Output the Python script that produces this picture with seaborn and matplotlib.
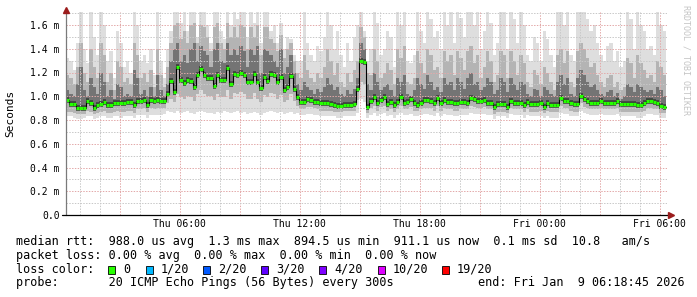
import numpy as np
import pandas as pd
import matplotlib
matplotlib.use("Agg")
import matplotlib.pyplot as plt
from matplotlib.patches import Rectangle
import seaborn as sns

# ---------------- data (milliseconds, one value per 10-minute step) ----------------
median_ms = [
    0.97, 0.935, 0.935, 0.905, 0.905, 0.905, 0.96, 0.945, 0.905, 0.93,
    0.935, 0.95, 0.93, 0.93, 0.94, 0.945, 0.945, 0.945, 0.95, 0.95,
    0.93, 0.96, 0.96, 0.97, 0.93, 0.97, 0.96, 0.965, 0.96, 0.96,
    1.02, 1.13, 1.04, 1.25, 1.14, 1.11, 1.14, 1.13, 1.075, 1.18,
    1.23, 1.18, 1.15, 1.15, 1.09, 1.18, 1.14, 1.14, 1.24, 1.10,
    1.19, 1.175, 1.20, 1.18, 1.12, 1.12, 1.19, 1.12, 1.07, 1.16,
    1.13, 1.19, 1.18, 1.12, 1.16, 1.05, 1.08, 1.17, 1.06, 0.99,
    0.95, 0.95, 0.975, 0.97, 0.955, 0.95, 0.94, 0.94, 0.94, 0.935,
    0.93, 0.92, 0.92, 0.93, 0.93, 0.93, 0.935, 1.06, 1.30, 1.29,
    0.91, 0.96, 0.99, 0.94, 0.97, 0.99, 0.935, 0.955, 0.925, 0.95,
    0.99, 0.945, 0.955, 0.975, 0.94, 0.93, 0.945, 0.965, 0.965, 0.96,
    0.94, 0.985, 0.94, 0.965, 0.955, 0.955, 0.94, 0.94, 0.955, 0.955,
    0.946, 0.983, 0.975, 0.963, 0.963, 0.969, 0.946, 0.946, 0.907, 0.932,
    0.932, 0.932, 0.912, 0.963, 0.946, 0.946, 0.946, 0.926, 0.948, 0.932,
    0.932, 0.932, 0.94, 0.912, 0.94, 0.926, 0.926, 0.926, 0.983, 0.96,
    0.96, 0.94, 0.932, 0.932, 1.002, 0.975, 0.963, 0.946, 0.946, 0.946,
    0.963, 0.946, 0.946, 0.946, 0.946, 0.963, 0.932, 0.932, 0.932, 0.932,
    0.932, 0.926, 0.926, 0.94, 0.963, 0.963, 0.954, 0.946, 0.918, 0.911,
]
smoke_max_ms = [
    1.32, 1.30, 1.22, 1.45, 1.75, 1.40, 1.28, 1.75, 1.50, 1.35,
    1.75, 1.60, 1.30, 1.38, 1.15, 1.55, 1.45, 1.25, 1.30, 1.20,
    1.75, 1.60, 1.30, 1.35, 1.28, 1.40, 1.18, 1.75, 1.30, 1.15,
    1.40, 1.55, 1.75, 1.75, 1.62, 1.75, 1.55, 1.75, 1.75, 1.50,
    1.75, 1.75, 1.60, 1.45, 1.75, 1.75, 1.55, 1.48, 1.75, 1.60,
    1.75, 1.65, 1.75, 1.75, 1.50, 1.75, 1.62, 1.75, 1.45, 1.75,
    1.75, 1.55, 1.60, 1.45, 1.62, 1.40, 1.50, 1.48, 1.35, 1.30,
    1.30, 1.75, 1.45, 1.35, 1.30, 1.42, 1.38, 1.50, 1.75, 1.60,
    1.40, 1.55, 1.35, 1.25, 1.45, 1.30, 1.50, 1.60, 1.75, 1.55,
    1.30, 1.40, 1.75, 1.62, 1.35, 1.40, 1.55, 1.50, 1.25, 1.75,
    1.60, 1.75, 1.30, 1.28, 1.35, 1.75, 1.55, 1.45, 1.75, 1.65,
    1.50, 1.55, 1.40, 1.75, 1.60, 1.75, 1.45, 1.75, 1.66, 1.50,
    1.75, 1.75, 1.60, 1.75, 1.40, 1.55, 1.75, 1.62, 1.35, 1.45,
    1.75, 1.75, 1.40, 1.75, 1.65, 1.45, 1.75, 1.60, 1.35, 1.30,
    1.50, 1.45, 1.30, 1.55, 1.48, 1.35, 1.25, 1.75, 1.75, 1.60,
    1.75, 1.35, 1.30, 1.75, 1.75, 1.75, 1.65, 1.55, 1.60, 1.45,
    1.35, 1.30, 1.42, 1.45, 1.30, 1.38, 1.25, 1.30, 1.75, 1.65,
    1.40, 1.75, 1.60, 1.55, 1.40, 1.42, 1.35, 1.75, 1.60, 1.55,
]
smoke_p90_ms = [
    1.18, 1.15, 1.10, 1.25, 1.45, 1.20, 1.12, 1.40, 1.25, 1.15,
    1.45, 1.35, 1.12, 1.20, 1.05, 1.30, 1.25, 1.12, 1.15, 1.10,
    1.45, 1.35, 1.15, 1.20, 1.12, 1.22, 1.08, 1.40, 1.18, 1.08,
    1.25, 1.45, 1.60, 1.62, 1.48, 1.55, 1.45, 1.60, 1.62, 1.45,
    1.60, 1.58, 1.50, 1.38, 1.58, 1.62, 1.45, 1.40, 1.62, 1.50,
    1.58, 1.50, 1.60, 1.58, 1.40, 1.58, 1.50, 1.60, 1.35, 1.58,
    1.58, 1.48, 1.45, 1.38, 1.52, 1.32, 1.40, 1.45, 1.30, 1.20,
    1.15, 1.35, 1.22, 1.15, 1.12, 1.20, 1.15, 1.25, 1.40, 1.30,
    1.18, 1.28, 1.12, 1.08, 1.20, 1.12, 1.22, 1.30, 1.58, 1.50,
    1.20, 1.18, 1.40, 1.30, 1.15, 1.20, 1.28, 1.22, 1.10, 1.40,
    1.32, 1.42, 1.12, 1.10, 1.15, 1.38, 1.28, 1.20, 1.40, 1.35,
    1.22, 1.25, 1.15, 1.38, 1.30, 1.35, 1.18, 1.38, 1.32, 1.22,
    1.38, 1.42, 1.28, 1.35, 1.15, 1.25, 1.38, 1.30, 1.12, 1.18,
    1.38, 1.35, 1.15, 1.38, 1.30, 1.18, 1.35, 1.28, 1.12, 1.08,
    1.22, 1.18, 1.10, 1.25, 1.20, 1.12, 1.05, 1.35, 1.40, 1.28,
    1.38, 1.12, 1.08, 1.38, 1.45, 1.40, 1.32, 1.25, 1.28, 1.18,
    1.12, 1.08, 1.15, 1.18, 1.08, 1.12, 1.05, 1.08, 1.32, 1.28,
    1.15, 1.35, 1.28, 1.22, 1.15, 1.18, 1.12, 1.30, 1.25, 1.18,
]
smoke_upper_ms = [
    1.05, 1.02, 1.00, 1.10, 1.25, 1.05, 1.00, 1.15, 1.08, 1.02,
    1.20, 1.12, 1.00, 1.05, 0.98, 1.10, 1.08, 1.00, 1.02, 1.00,
    1.22, 1.15, 1.02, 1.05, 1.00, 1.08, 1.00, 1.18, 1.05, 1.00,
    1.10, 1.30, 1.40, 1.45, 1.30, 1.35, 1.28, 1.40, 1.45, 1.30,
    1.42, 1.38, 1.35, 1.25, 1.40, 1.45, 1.30, 1.28, 1.45, 1.35,
    1.40, 1.35, 1.42, 1.38, 1.25, 1.40, 1.35, 1.42, 1.20, 1.40,
    1.38, 1.35, 1.30, 1.25, 1.40, 1.20, 1.25, 1.35, 1.20, 1.10,
    1.05, 1.12, 1.08, 1.05, 1.02, 1.06, 1.04, 1.08, 1.15, 1.10,
    1.05, 1.08, 1.02, 1.00, 1.05, 1.02, 1.06, 1.15, 1.45, 1.40,
    1.10, 1.05, 1.20, 1.12, 1.05, 1.08, 1.10, 1.05, 1.00, 1.15,
    1.12, 1.18, 1.02, 1.00, 1.05, 1.15, 1.10, 1.06, 1.18, 1.12,
    1.05, 1.08, 1.04, 1.15, 1.10, 1.12, 1.05, 1.15, 1.12, 1.06,
    1.15, 1.20, 1.10, 1.12, 1.05, 1.08, 1.15, 1.12, 1.02, 1.05,
    1.15, 1.12, 1.04, 1.15, 1.10, 1.05, 1.12, 1.10, 1.02, 1.00,
    1.06, 1.05, 1.00, 1.08, 1.05, 1.02, 1.00, 1.12, 1.18, 1.10,
    1.15, 1.02, 1.00, 1.15, 1.22, 1.18, 1.12, 1.08, 1.10, 1.05,
    1.02, 1.00, 1.04, 1.05, 1.00, 1.03, 0.98, 1.00, 1.10, 1.08,
    1.04, 1.10, 1.08, 1.05, 1.04, 1.05, 1.02, 1.08, 1.05, 1.00,
]
smoke_lower_ms = [
    0.87, 0.87, 0.86, 0.85, 0.85, 0.85, 0.88, 0.87, 0.85, 0.86,
    0.87, 0.88, 0.86, 0.86, 0.87, 0.88, 0.87, 0.87, 0.88, 0.88,
    0.86, 0.89, 0.89, 0.90, 0.87, 0.90, 0.89, 0.90, 0.90, 0.90,
    0.94, 0.98, 0.95, 1.02, 0.99, 0.98, 1.00, 0.99, 0.96, 1.02,
    1.05, 1.02, 1.00, 1.00, 0.97, 1.02, 0.99, 0.99, 1.05, 0.98,
    1.03, 1.02, 1.04, 1.02, 0.98, 0.98, 1.03, 0.98, 0.95, 1.01,
    0.99, 1.03, 1.02, 0.98, 1.01, 0.95, 0.97, 1.02, 0.96, 0.92,
    0.89, 0.89, 0.91, 0.91, 0.90, 0.89, 0.88, 0.88, 0.88, 0.88,
    0.87, 0.87, 0.87, 0.88, 0.88, 0.88, 0.88, 0.97, 1.12, 1.10,
    0.86, 0.90, 0.92, 0.88, 0.91, 0.92, 0.88, 0.89, 0.87, 0.89,
    0.92, 0.89, 0.89, 0.91, 0.88, 0.88, 0.89, 0.90, 0.90, 0.90,
    0.88, 0.92, 0.88, 0.90, 0.89, 0.89, 0.88, 0.88, 0.89, 0.89,
    0.89, 0.92, 0.91, 0.90, 0.90, 0.91, 0.89, 0.89, 0.85, 0.87,
    0.87, 0.87, 0.86, 0.90, 0.89, 0.89, 0.89, 0.87, 0.89, 0.87,
    0.87, 0.87, 0.88, 0.86, 0.88, 0.87, 0.87, 0.87, 0.92, 0.90,
    0.90, 0.88, 0.87, 0.87, 0.94, 0.91, 0.90, 0.89, 0.89, 0.89,
    0.90, 0.89, 0.89, 0.89, 0.89, 0.90, 0.87, 0.87, 0.87, 0.87,
    0.87, 0.87, 0.87, 0.88, 0.90, 0.90, 0.89, 0.89, 0.86, 0.86,
]
smoke_min_ms = [
    0.83, 0.83, 0.82, 0.81, 0.81, 0.82, 0.83, 0.83, 0.81, 0.82,
    0.83, 0.83, 0.82, 0.82, 0.83, 0.83, 0.82, 0.83, 0.83, 0.83,
    0.82, 0.84, 0.84, 0.84, 0.82, 0.84, 0.84, 0.84, 0.84, 0.85,
    0.88, 0.87, 0.86, 0.88, 0.86, 0.87, 0.88, 0.86, 0.85, 0.87,
    0.88, 0.87, 0.86, 0.86, 0.85, 0.87, 0.86, 0.88, 0.87, 0.86,
    0.87, 0.88, 0.86, 0.87, 0.85, 0.86, 0.87, 0.86, 0.84, 0.86,
    0.87, 0.88, 0.87, 0.86, 0.87, 0.85, 0.86, 0.87, 0.85, 0.86,
    0.84, 0.84, 0.85, 0.85, 0.84, 0.84, 0.83, 0.83, 0.83, 0.83,
    0.83, 0.82, 0.82, 0.83, 0.83, 0.83, 0.83, 0.86, 0.98, 0.95,
    0.82, 0.84, 0.86, 0.83, 0.85, 0.86, 0.83, 0.84, 0.82, 0.84,
    0.86, 0.84, 0.84, 0.85, 0.83, 0.83, 0.84, 0.85, 0.85, 0.84,
    0.83, 0.86, 0.83, 0.85, 0.84, 0.84, 0.83, 0.83, 0.84, 0.84,
    0.84, 0.86, 0.85, 0.85, 0.85, 0.85, 0.84, 0.84, 0.81, 0.83,
    0.83, 0.83, 0.82, 0.85, 0.84, 0.84, 0.84, 0.82, 0.84, 0.83,
    0.83, 0.83, 0.83, 0.82, 0.83, 0.82, 0.82, 0.82, 0.86, 0.85,
    0.85, 0.83, 0.83, 0.83, 0.88, 0.86, 0.85, 0.84, 0.84, 0.84,
    0.85, 0.84, 0.84, 0.84, 0.84, 0.85, 0.83, 0.83, 0.83, 0.83,
    0.83, 0.82, 0.82, 0.83, 0.85, 0.85, 0.84, 0.84, 0.82, 0.82,
]

ytick_values = [0.0, 0.2, 0.4, 0.6, 0.8, 1.0, 1.2, 1.4, 1.6]
ytick_labels = ["0.0", "0.2 m", "0.4 m", "0.6 m", "0.8 m", "1.0 m", "1.2 m", "1.4 m", "1.6 m"]
xtick_hours = [6, 12, 18, 24, 30]
xtick_labels = ["Thu 06:00", "Thu 12:00", "Thu 18:00", "Fri 00:00", "Fri 06:00"]

loss_labels = ["0", "1/20", "2/20", "3/20", "4/20", "10/20", "19/20"]
loss_colors = ["#26ff00", "#00b8ff", "#0059ff", "#5e00ff", "#7e00ff", "#dd00ff", "#ff0000"]

legend_lines = [
    "median rtt:  988.0 us avg  1.3 ms max  894.5 us min  911.1 us now  0.1 ms sd  10.8   am/s",
    "packet loss: 0.00 % avg  0.00 % max  0.00 % min  0.00 % now",
    "loss color:",
    "probe:       20 ICMP Echo Pings (56 Bytes) every 300s",
]
end_text = "end: Fri Jan  9 06:18:45 2026"

START_H = 0.3125          # Thu 00:18:45, in hours since Thu 00:00
STEP_H = 10 / 60.0

# ---------------- figure ----------------
sns.set_theme(style="white")
plt.rcParams['font.family'] = ['DejaVu Sans Mono', 'DejaVu Sans']

W, H = 697, 297
fig = plt.figure(figsize=(W / 100, H / 100), dpi=100)
fig.patch.set_facecolor("white")
ax = fig.add_axes([66 / W, (H - 215) / H, 601 / W, 203 / H])
ax.set_facecolor("white")

n = len(median_ms)
for arr in (smoke_max_ms, smoke_p90_ms, smoke_upper_ms, smoke_lower_ms, smoke_min_ms):
    assert len(arr) == n, len(arr)

edges = START_H + STEP_H * np.arange(n + 1)
df = pd.DataFrame({
    "t": edges,
    "median": median_ms + [median_ms[-1]],
    "smax": smoke_max_ms + [smoke_max_ms[-1]],
    "p90": smoke_p90_ms + [smoke_p90_ms[-1]],
    "sup": smoke_upper_ms + [smoke_upper_ms[-1]],
    "slo": smoke_lower_ms + [smoke_lower_ms[-1]],
    "smin": smoke_min_ms + [smoke_min_ms[-1]],
})

ax.fill_between(df["t"], df["smin"], df["smax"], step="post", color="#dedede", lw=0, zorder=1)
ax.fill_between(df["t"], df["slo"], df["p90"], step="post", color="#b4b4b4", lw=0, zorder=1.2)
ax.fill_between(df["t"], df["median"], df["sup"], step="post", color="#747474", lw=0, zorder=1.4)
ax.hlines(df["median"][:-1], df["t"][:-1], df["t"][1:], colors="#3c3c3c",
          linewidth=4.0, zorder=1.6)
sns.lineplot(data=df, x="t", y="median", drawstyle="steps-post", color="#000000",
             linewidth=0.8, ax=ax, zorder=4, legend=False)
ax.hlines(df["median"][:-1], df["t"][:-1], df["t"][1:], colors=loss_colors[0],
          linewidth=2.3, zorder=5)

# axes ranges & grid
ax.set_xlim(START_H, START_H + 601 / 20.0)
ax.set_ylim(0, 203 / 118.75)
ax.set_yticks(ytick_values)
ax.set_yticklabels(ytick_labels)
ax.set_yticks(np.arange(0.1, 1.75, 0.2), minor=True)
major_x = np.arange(3, 31, 3)
ax.set_xticks(major_x)
ax.set_xticklabels([xtick_labels[xtick_hours.index(h)] if h in xtick_hours else "" for h in major_x])
ax.set_xticks(np.arange(1, 31, 1), minor=True)
ax.set_axisbelow(False)
ax.grid(which="major", color="#e3a9a9", linestyle=(0, (1.4, 1.4)), linewidth=0.72)
ax.grid(which="minor", color="#c8c8c8", linestyle=(0, (1.4, 1.4)), linewidth=0.72)
for gl in ax.get_xgridlines() + ax.get_ygridlines():
    gl.set_zorder(2)
ax.tick_params(which="both", length=0)
ax.tick_params(axis="y", labelsize=7, pad=4.5, colors="#000000")
ax.tick_params(axis="x", labelsize=7, pad=3.0, colors="#000000")
ax.set_xlabel("")
ax.set_ylabel("")
for s in ax.spines.values():
    s.set_visible(False)

# axis lines + arrows
ax.plot([0, 0], [0, 1.01], transform=ax.transAxes, color="#7a7a7a", lw=0.9, clip_on=False, zorder=6)
ax.plot([-4 / 601, 1.0 + 2 / 601], [0, 0], transform=ax.transAxes, color="#000000", lw=0.9,
        clip_on=False, zorder=6)
ax.plot([0], [1.0 + 2 / 203], transform=ax.transAxes, marker="^", markersize=4, color="#9b1c1c",
        clip_on=False, zorder=7)
ax.plot([1.0 + 4 / 601], [0], transform=ax.transAxes, marker=">", markersize=4, color="#9b1c1c",
        clip_on=False, zorder=7)

# labels
fig.text(10 / W, 1 - 113 / H, "Seconds", rotation=90, ha="center", va="center", fontsize=8, color="#000000")
fig.text(686 / W, 1 - 60 / H, "RRDTOOL / TOBI OETIKER", rotation=270, ha="center", va="center",
         fontsize=6, color="#c4c4c4")

line_y = [241.5, 255.3, 269.3, 282.7]
for txt, y in zip(legend_lines, line_y):
    fig.text(16 / W, 1 - y / H, txt, ha="left", va="center", fontsize=8.5, color="#000000")
fig.text(478 / W, 1 - line_y[3] / H, end_text, ha="left", va="center", fontsize=8.5, color="#000000")

box_x = [108, 146, 203, 261, 319, 378, 442]
for bx, lab, col in zip(box_x, loss_labels, loss_colors):
    fig.add_artist(Rectangle((bx / W, 1 - 274 / H), 7 / W, 8 / H, transform=fig.transFigure,
                             facecolor=col, edgecolor="#000000", linewidth=0.6))
    fig.text((bx + 15) / W, 1 - line_y[2] / H, lab, ha="left", va="center", fontsize=8.5, color="#000000")

fig.savefig("out.png", dpi=100, facecolor="white")
